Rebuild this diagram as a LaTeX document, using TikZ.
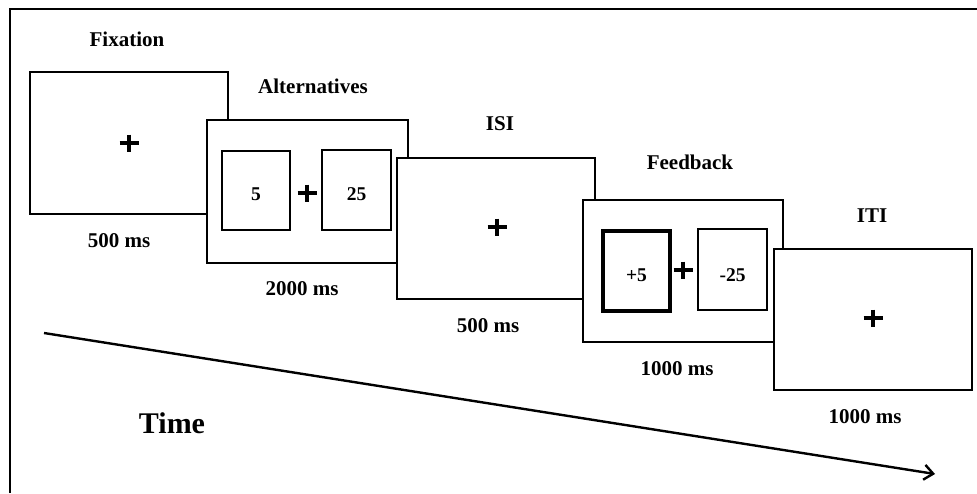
\documentclass[tikz,border=0pt]{standalone}
\usepackage{fontspec}
\setmainfont{Liberation Serif}
\usetikzlibrary{arrows.meta}
\tikzset{
  screen/.style={draw=black, fill=white, line width=2.2pt, rectangle, inner sep=0pt},
  option/.style={draw=black, fill=white, line width=2pt, rectangle, inner sep=0pt, font=\fontsize{19.5}{21}\selectfont\bfseries, text depth=0pt},
  chosen/.style={option, line width=3.6pt},
  lbl/.style={anchor=base, inner sep=0pt, font=\fontsize{21}{23}\selectfont\bfseries},
  crossmark/.pic={\draw[line width=4.2pt] (-9.5,0)--(9.5,0) (0,-8.5)--(0,8.5);}
}
\begin{document}
\begin{tikzpicture}[x=1pt,y=-1pt]
\useasboundingbox (0,0) rectangle (977,493);
\fill[white] (0,0) rectangle (977,493);
% outer frame (top and left)
\draw[line width=1.5pt] (10,493) -- (10,9) -- (977,9);

% screens
\node[screen, minimum width=198pt, minimum height=142pt] (fix) at (129,143) {};
\pic at (129,143) {crossmark};

\node[screen, minimum width=201pt, minimum height=143pt] (alt) at (307.5,191.5) {};
\node[option, minimum width=68pt, minimum height=79pt, text height=19pt] (altL) at (256,190.5) {5};
\node[option, minimum width=69pt, minimum height=80pt, text height=20pt] (altR) at (356.5,190) {25};
\pic at (307,193) {crossmark};

\node[screen, minimum width=198pt, minimum height=141pt] (isi) at (496,228.5) {};
\pic at (497,227) {crossmark};

\node[screen, minimum width=200pt, minimum height=142pt] (fb) at (683,271) {};
\node[chosen, minimum width=67pt, minimum height=80pt, text height=20pt] (fbL) at (636.5,271) {+5};
\node[option, minimum width=69pt, minimum height=81pt, text height=23pt] (fbR) at (732.5,269.5) {-25};
\pic at (683,270) {crossmark};

\node[screen, minimum width=198pt, minimum height=141pt] (iti) at (873,319.5) {};
\pic at (873,318) {crossmark};

% titles
\node[lbl] (tfix) at (127,46) {Fixation};
\node[lbl] (talt) at (313,93) {Alternatives};
\node[lbl] (tisi) at (500,130) {ISI};
\node[lbl] (tfb) at (690,169) {Feedback};
\node[lbl] (titi) at (872,222) {ITI};

% durations
\node[lbl] (dfix) at (119,247) {500 ms};
\node[lbl] (dalt) at (302,295) {2000 ms};
\node[lbl] (disi) at (488,332) {500 ms};
\node[lbl] (dfb) at (677,375) {1000 ms};
\node[lbl] (diti) at (865,423) {1000 ms};

% time arrow
\coordinate (ts) at (44,333);
\coordinate (te) at (935,474);
\draw[line width=2.4pt, -{Straight Barb[length=9pt, width=15pt, line width=2.4pt]}] (ts) -- (te);
\node[lbl, font=\fontsize{30}{33}\selectfont\bfseries] (time) at (172,433) {Time};
\end{tikzpicture}
\end{document}
